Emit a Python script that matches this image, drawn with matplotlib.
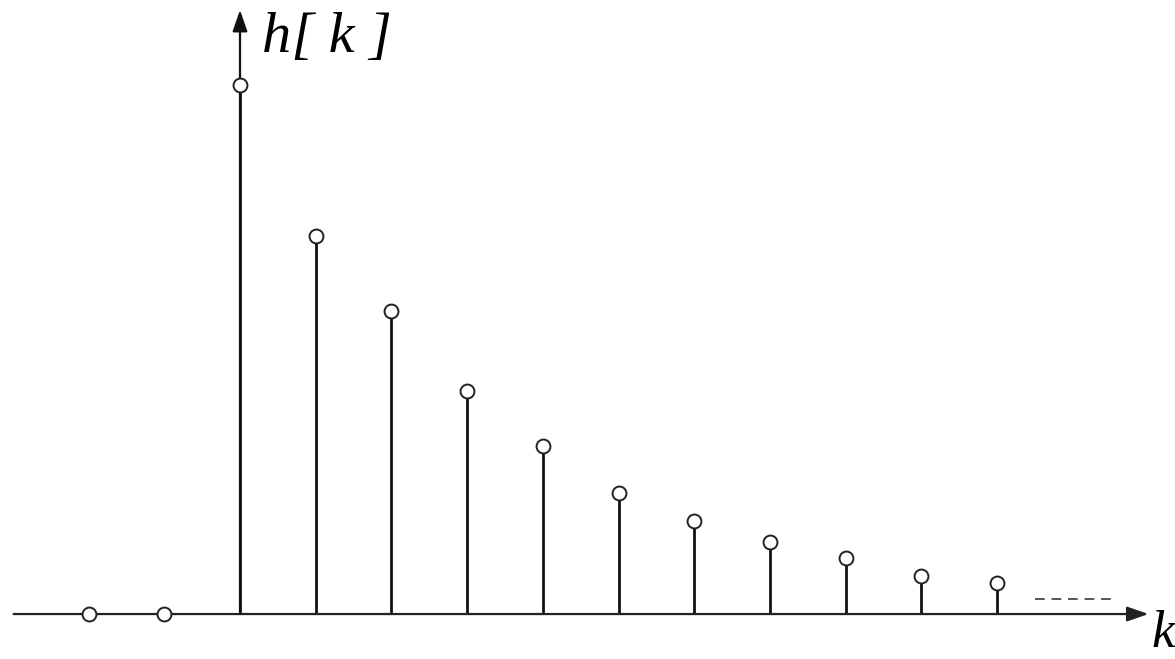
import numpy as np
import matplotlib.pyplot as plt

# impulse response samples
k = np.arange(-2, 11)
h = np.array([0, 0, 1.0, 0.715, 0.573, 0.422, 0.318, 0.229,
              0.176, 0.136, 0.106, 0.072, 0.059])

fig = plt.figure(figsize=(11.75, 6.59), dpi=100)
ax = fig.add_axes([0, 0, 1, 1])
ax.set_xlim(-3.17, 12.35)
ax.set_ylim(-0.085, 1.1607)
ax.axis("off")

# axes with arrows
ax.annotate("", xy=(12.0, 0), xytext=(-2.99, 0),
            arrowprops=dict(arrowstyle="-|>,head_length=1.3,head_width=0.45",
                            color="#222222", lw=1.6, shrinkA=0, shrinkB=0))
ax.annotate("", xy=(0, 1.142), xytext=(0, 0),
            arrowprops=dict(arrowstyle="-|>,head_length=1.3,head_width=0.45",
                            color="#111111", lw=1.6, shrinkA=0, shrinkB=0))

# stems
pos = k >= 0
ax.vlines(k[pos], 0, h[pos], color="#111111", lw=2.0, zorder=2)
ax.plot(k, h, "o", ms=10, mfc="white", mec="#222222", mew=1.4, zorder=3)

# continuation dashes
ax.plot([10.5, 11.5], [0.028, 0.028], color="#555555", lw=1.4,
        linestyle=(0, (5, 3.5)))

font = dict(family="Liberation Serif", style="italic", size=42)
ax.text(0.29, 1.138, "h[ k ]", ha="left", va="top", **font)
ax.text(12.35, 0.008, "k", ha="right", va="top",
        family="Liberation Serif", style="italic", size=38)

fig.savefig("out.png", dpi=100)
